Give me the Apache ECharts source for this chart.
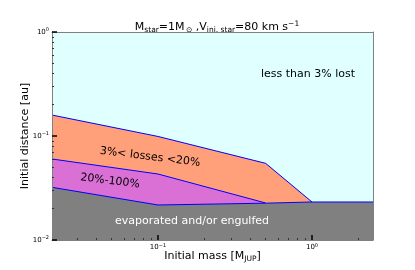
<!DOCTYPE html>
<html>
<head>
<meta charset="utf-8">
<script src="https://cdn.jsdelivr.net/npm/echarts@6/dist/echarts.min.js"></script>
<style>html,body{margin:0;padding:0;background:#fff}#c{width:415px;height:270px}</style>
</head>
<body>
<div id="c"></div>
<script>
// ---- data ----
const massOrange = [0.0205, 0.1, 0.5, 1.0];
const distOrange = [0.159, 0.099, 0.0546, 0.0232];
const massMagenta = [0.0205, 0.1, 0.5];
const distMagenta = [0.0601, 0.0431, 0.0227];
const massGray = [0.0205, 0.1, 0.5, 1.0, 2.49];
const distGray = [0.0321, 0.0217, 0.0226, 0.0232, 0.0232];
const xMajorTicks = [0.1, 1];
const xMinorTicks = [0.03, 0.04, 0.05, 0.06, 0.07, 0.08, 0.09, 0.2, 0.3, 0.4, 0.5, 0.6, 0.7, 0.8, 0.9, 2];
const yMajorTicks = [0.01, 0.1, 1];
const yMinorTicks = [0.02, 0.03, 0.04, 0.05, 0.06, 0.07, 0.08, 0.09, 0.2, 0.3, 0.4, 0.5, 0.6, 0.7, 0.8, 0.9];
const xRange = [0.0205, 2.49];
const yRange = [0.01, 1];

const FONT = 'DejaVu Sans';
function zip(a, b) { return a.map((v, i) => [v, b[i]]); }
function powLabel(v) {
  const e = Math.round(Math.log10(v));
  return '10{s|' + String(e).replace('-', '\u2212') + '}';
}
const tickRich = { s: { fontSize: 5, fontFamily: FONT, padding: [0, 0, 4, 0], verticalAlign: 'bottom' } };

function xAxisBase(extra) {
  return Object.assign({
    type: 'log', logBase: 10, min: xRange[0], max: xRange[1], position: 'bottom', z: 10,
    splitLine: { show: false }, axisLine: { show: false }, axisLabel: { show: false }, axisTick: { show: false }
  }, extra);
}
function yAxisBase(extra) {
  return Object.assign({
    type: 'log', logBase: 10, min: yRange[0], max: yRange[1], position: 'left', z: 10,
    splitLine: { show: false }, axisLine: { show: false }, axisLabel: { show: false }, axisTick: { show: false }
  }, extra);
}

const chart = echarts.init(document.getElementById('c'), null, { renderer: 'canvas' });
const option = {
  animation: false,
  backgroundColor: '#ffffff',
  title: {
    text: 'M{sub|star}=1M{sub|\u2009\u2299} ,V{sub|ini, star}=80 km s{sup|\u22121}',
    left: 212, top: 15, textAlign: 'center',
    textStyle: {
      fontFamily: FONT, fontSize: 11, fontWeight: 'normal', color: '#000',
      rich: {
        sub: { fontFamily: FONT, fontSize: 7.5, padding: [6, 0, 0, 0], verticalAlign: 'top' },
        sup: { fontFamily: FONT, fontSize: 7.5, padding: [0, 0, 6, 0], verticalAlign: 'bottom' }
      }
    }
  },
  grid: { left: 52, top: 32, width: 321, height: 208, show: true, backgroundColor: '#e0ffff', borderWidth: 0 },
  xAxis: [
    xAxisBase({
      axisLine: { show: true, onZero: false, lineStyle: { color: '#808080', width: 1 } },
      axisTick: { show: true, inside: true, length: 5, customValues: xMajorTicks, lineStyle: { color: '#000', width: 1.5 } },
      axisLabel: { show: true, customValues: xMajorTicks, margin: 3, formatter: powLabel, fontFamily: FONT, fontSize: 7, color: '#000', rich: tickRich },
      name: 'Initial mass [M{sub|JUP}]', nameLocation: 'middle', nameGap: 9, nameMoveOverlap: false,
      nameTextStyle: { fontFamily: FONT, fontSize: 11, color: '#000',
        rich: { sub: { fontFamily: FONT, fontSize: 7.5, padding: [6, 0, 0, 0], verticalAlign: 'top' } } }
    }),
    xAxisBase({
      axisTick: { show: true, inside: true, length: 2, customValues: xMinorTicks, lineStyle: { color: '#333', width: 1 } }
    }),
    xAxisBase({
      position: 'top',
      axisLine: { show: true, onZero: false, lineStyle: { color: '#808080', width: 1 } }
    })
  ],
  yAxis: [
    yAxisBase({
      axisLine: { show: true, onZero: false, lineStyle: { color: '#808080', width: 1 } },
      axisTick: { show: true, inside: true, length: 5, customValues: yMajorTicks, lineStyle: { color: '#000', width: 1.5 } },
      axisLabel: { show: true, customValues: yMajorTicks, margin: 3, formatter: powLabel, fontFamily: FONT, fontSize: 7, color: '#000', rich: tickRich },
      name: 'Initial distance [au]', nameLocation: 'middle', nameGap: 21, nameMoveOverlap: false,
      nameTextStyle: { fontFamily: FONT, fontSize: 11, color: '#000' }
    }),
    yAxisBase({
      axisTick: { show: true, inside: true, length: 2, customValues: yMinorTicks, lineStyle: { color: '#333', width: 1 } }
    }),
    yAxisBase({
      position: 'right',
      axisLine: { show: true, onZero: false, lineStyle: { color: '#808080', width: 1 } }
    })
  ],
  series: [
    { type: 'line', xAxisIndex: 0, yAxisIndex: 0, data: zip(massOrange, distOrange), showSymbol: false, z: 2,
      lineStyle: { color: '#0000ff', width: 1 }, areaStyle: { color: '#ffa07a', opacity: 1, origin: 'start' } },
    { type: 'line', xAxisIndex: 0, yAxisIndex: 0, data: zip(massMagenta, distMagenta), showSymbol: false, z: 3,
      lineStyle: { color: '#0000ff', width: 1 }, areaStyle: { color: '#da70d6', opacity: 1, origin: 'start' } },
    { type: 'line', xAxisIndex: 0, yAxisIndex: 0, data: zip(massGray, distGray), showSymbol: false, z: 4,
      lineStyle: { color: '#0000ff', width: 1 }, areaStyle: { color: '#808080', opacity: 1, origin: 'start' } }
  ],
  graphic: [
    { type: 'text', x: 308, y: 74, z: 20, style: { text: 'less than 3% lost', fontFamily: FONT, fontSize: 11, fill: '#000', align: 'center', verticalAlign: 'middle' } },
    { type: 'text', x: 150, y: 157, z: 20, rotation: -7 * Math.PI / 180, style: { text: '3%< losses <20%', fontFamily: FONT, fontSize: 11, fill: '#000', align: 'center', verticalAlign: 'middle' } },
    { type: 'text', x: 110, y: 181, z: 20, rotation: -7 * Math.PI / 180, style: { text: '20%-100%', fontFamily: FONT, fontSize: 11, fill: '#000', align: 'center', verticalAlign: 'middle' } },
    { type: 'text', x: 192, y: 221, z: 20, style: { text: 'evaporated and/or engulfed', fontFamily: FONT, fontSize: 11, fill: '#ffffff', align: 'center', verticalAlign: 'middle' } }
  ]
};
chart.setOption(option);
</script>
</body>
</html>
